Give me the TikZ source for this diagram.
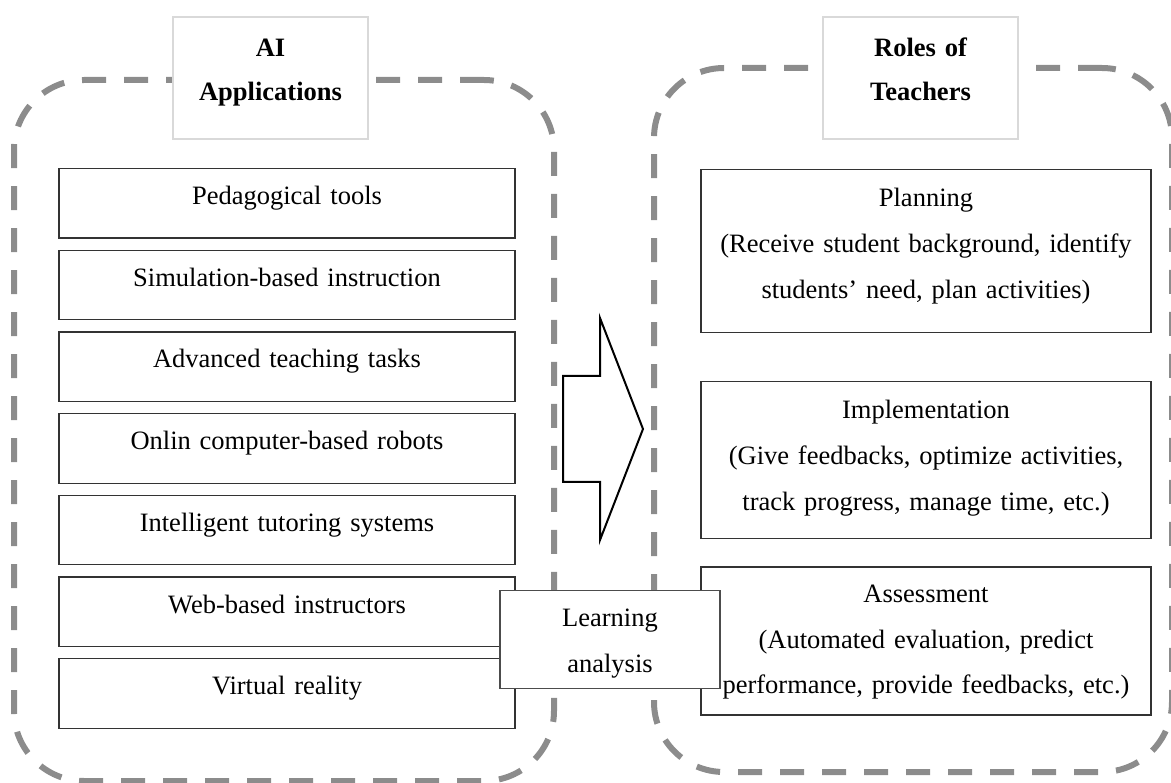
\documentclass[tikz,border=0pt]{standalone}
\usepackage{fontspec}
\setmainfont{Liberation Serif}
\usepackage{xcolor}
\usepackage{tikz}
\usetikzlibrary{positioning}
\definecolor{dashgray}{HTML}{8C8C8C}
\definecolor{titlegray}{HTML}{D9D9D9}

\begin{document}
\begin{tikzpicture}[x=1pt, y=-1pt, node distance=11pt,
  every node/.style={inner sep=0pt, align=center, font=\fontsize{26.5}{46}\selectfont},
  dashedgroup/.style={draw=dashgray, line width=6pt, dash pattern=on 24pt off 18pt, rounded corners=70pt},
  titlebox/.style={draw=titlegray, line width=2.5pt, fill=white, text width=195pt, text height=39pt, text depth=83pt, font=\fontsize{26.5}{44}\selectfont\bfseries},
  appbox/.style={draw=black!80, line width=1.2pt, fill=white, text width=456pt, text height=36pt, text depth=33.5pt},
  rolebox/.style={draw=black!80, line width=1.2pt, fill=white, text width=450pt, text height=37pt},
  learnbox/.style={draw=black!70, line width=1.2pt, fill=white, text width=220pt, text height=36pt, text depth=62pt}]
\useasboundingbox (0,0) rectangle (1171,783);
\node[dashedgroup, minimum width=540pt, minimum height=701pt] (appsgroup) at (284,430.5) {};
\node[dashedgroup, minimum width=518pt, minimum height=704pt] (rolesgroup) at (913,420) {};
\node[titlebox, anchor=north] (aititle) at (270.5,16) {AI\\Applications};
\node[titlebox, anchor=north] (roletitle) at (920.5,16) {Roles of\\Teachers};
\node[appbox, anchor=north] (ped) at (287,168) {Pedagogical tools};
\node[appbox, below=of ped] (sim) {Simulation-based instruction};
\node[appbox, below=of sim] (adv) {Advanced teaching tasks};
\node[appbox, below=of adv] (onl) {Onlin computer-based robots};
\node[appbox, below=of onl] (its) {Intelligent tutoring systems};
\node[appbox, below=of its] (web) {Web-based instructors};
\node[appbox, below=of web] (vr) {Virtual reality};
\node[rolebox, anchor=north, text depth=126pt] (plan) at (926,169) {Planning\\(Receive student background, identify\\students' need, plan activities)};
\node[rolebox, below=48pt of plan, text depth=120pt] (impl) {Implementation\\(Give feedbacks, optimize activities,\\track progress, manage time, etc.)};
\node[rolebox, below=27pt of impl, text height=35pt, text depth=113pt] (assess) {Assessment\\(Automated evaluation, predict\\performance, provide feedbacks, etc.)};
\draw[line width=2pt, fill=white, line join=miter] (563,376) -- (600,376) -- (600,318) -- (643,429) -- (600,540) -- (600,482) -- (563,482) -- cycle;
\node[learnbox, anchor=north] (learn) at (610,590) {Learning\\analysis};
\end{tikzpicture}
\end{document}
